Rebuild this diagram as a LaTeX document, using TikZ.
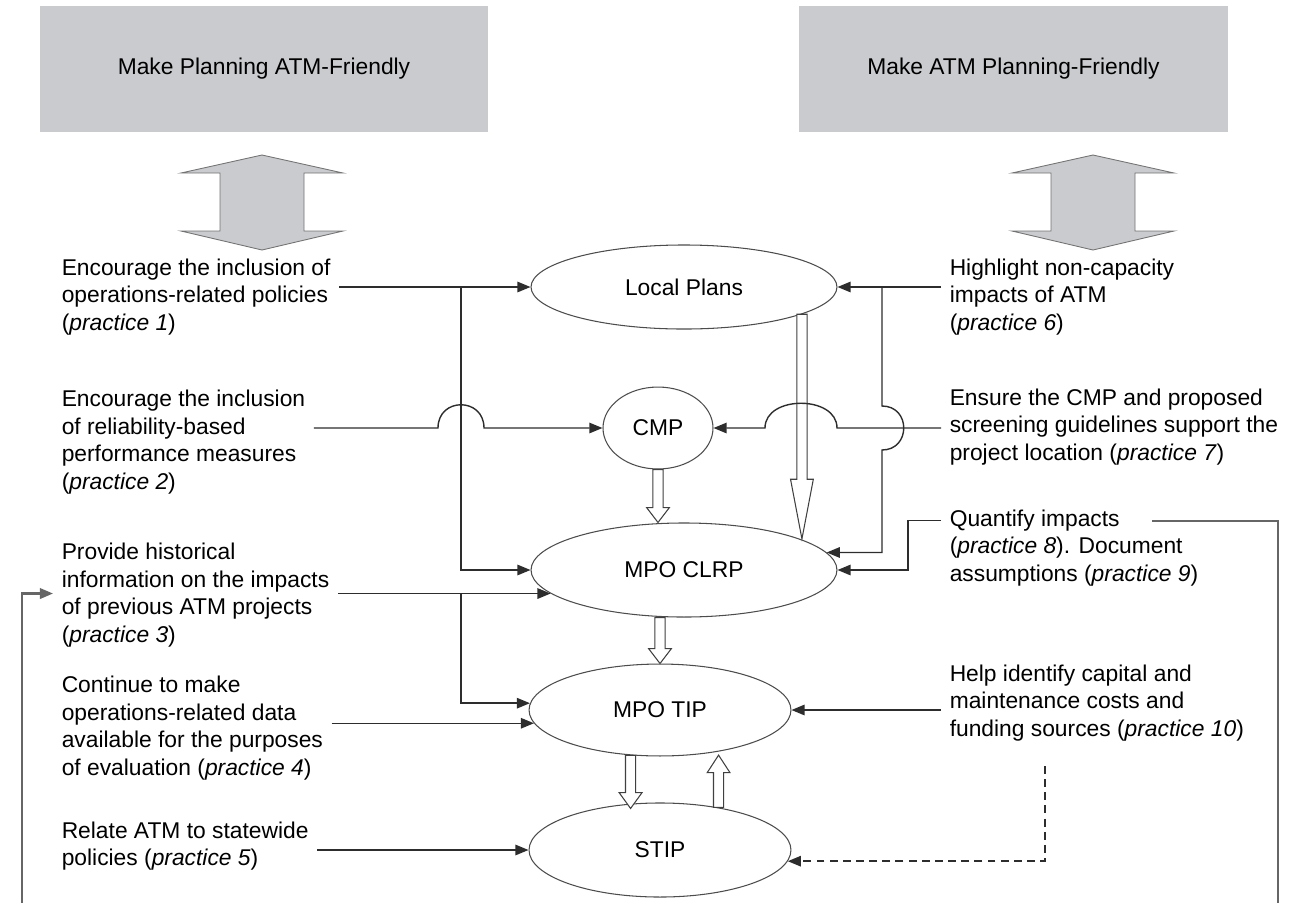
\documentclass[tikz,border=0pt]{standalone}
\usepackage{fontspec}
\setmainfont{Liberation Sans}
\usetikzlibrary{shapes.geometric,arrows.meta,calc}
\definecolor{boxgray}{RGB}{201,203,206}
\definecolor{linegray}{RGB}{45,45,45}
\tikzset{
  hollow/.style={draw=black!75, line width=0.6pt, fill=white, to path={
      let \p1=(\tikztostart), \p2=(\tikztotarget), \n1={ifthenelse(\y2>\y1,1,-1)} in
      ({\x1-2.9pt},\y1) -- ({\x1-2.9pt},{\y2-\n1*#1}) -- ({\x1-6.5pt},{\y2-\n1*#1})
      -- (\x1,\y2) -- ({\x1+6.5pt},{\y2-\n1*#1}) -- ({\x1+2.9pt},{\y2-\n1*#1})
      -- ({\x1+2.9pt},\y1) -- cycle}},
  hollow/.default=8.5pt
}
\begin{document}
\begin{tikzpicture}[x=0.57pt,y=-0.57pt]
    \tikzstyle{txt}=[anchor=west, align=left, inner sep=0pt, outer xsep=5pt, font=\fontsize{13}{15.7}\selectfont]
    \tikzstyle{place}=[ellipse, draw=black!70, line width=0.6pt, inner sep=0pt, font=\fontsize{13}{15.7}\selectfont]
    \tikzstyle{banner}=[fill=boxgray, minimum height=71.8pt, inner sep=0pt, font=\fontsize{13}{15.7}\selectfont]
    \tikzstyle{arr}=[draw=linegray, line width=0.8pt, -{Triangle[length=7.5pt,width=6pt]}]
    \tikzstyle{feedback}=[draw=black!60, line width=1.3pt, -{Triangle[length=7.5pt,width=6pt]}]

    \useasboundingbox (0,0) rectangle (1298,902);
    \clip (0,0) rectangle (1298,902);

    % Banners
    \node at (264, 69) [banner, minimum width=255.4pt] (lbox) {Make Planning ATM-Friendly};
    \node at (1013.5, 69) [banner, minimum width=244.5pt] (rbox) {Make ATM Planning-Friendly};
    \foreach \cx in {262, 1093}
        \filldraw [fill=boxgray, draw=black!55, line width=0.5pt] (\cx,155) -- ({\cx+81},173) -- ({\cx+42},173)
            -- ({\cx+42},231) -- ({\cx+81},231) -- (\cx,250) -- ({\cx-81},231) -- ({\cx-42},231)
            -- ({\cx-42},173) -- ({\cx-81},173) -- cycle;

    % Plans
    \node at (684, 287) [place, minimum width=174.4pt, minimum height=47.9pt] (lp) {Local Plans};
    \node at (658, 428) [place, minimum width=62.7pt, minimum height=46.7pt] (cmp) {CMP};
    \node at (684, 570) [place, minimum width=174.4pt, minimum height=53.6pt] (clrp) {MPO CLRP};
    \node at (660, 710) [place, minimum width=149.3pt, minimum height=52.4pt] (tip) {MPO TIP};
    \node at (660, 850) [place, minimum width=149.3pt, minimum height=53.6pt] (stip) {STIP};

    % Practices
    \node at (53, 297) [txt] (p1) {Encourage the inclusion of\\operations-related policies\\(\textit{practice 1})};
    \node at (53, 442) [txt] (p2) {Encourage the inclusion\\of reliability-based\\performance measures\\(\textit{practice 2})};
    \node at (53, 595) [txt] (p3) {Provide historical\\information on the impacts\\of previous ATM projects\\(\textit{practice 3})};
    \node at (53, 728) [txt] (p4) {Continue to make\\operations-related data\\available for the purposes\\of evaluation (\textit{practice 4})};
    \node at (53, 846) [txt] (p5) {Relate ATM to statewide\\policies (\textit{practice 5})};
    \node at (941, 297) [txt] (p6) {Highlight non-capacity\\impacts of ATM\\(\textit{practice 6})};
    \node at (941, 427) [txt] (p7) {Ensure the CMP and proposed\\screening guidelines support the\\project location (\textit{practice 7})};
    \node at (941, 548) [txt] (p8) {Quantify impacts\\(\textit{practice 8}). Document\\assumptions (\textit{practice 9})};
    \node at (941, 703) [txt] (p10) {Help identify capital and\\maintenance costs and\\funding sources (\textit{practice 10})};

    \coordinate (cl) at (461, 0);
    \coordinate (cr) at (882, 0);
    \coordinate (fbl) at (22, 0);
    \coordinate (fb) at (1152, 521);
    \coordinate (dsh) at (1045, 766);

    % Flow between plans
    \draw [hollow=34pt] (lp.-13) to (clrp.15);
    \draw [hollow] (cmp.south) to (cmp.south |- clrp.north);
    \draw [hollow] (tip.north |- clrp.south) to (tip.north);
    \draw [hollow=9pt] (tip.237) to (stip.147);
    \draw [hollow=10pt] (stip.36) to (tip.-55);

    % Left side
    \draw [arr] (p1.east |- lp.west) -- (lp.west);
    \draw [arr] (cl |- lp.west) |- (clrp.west);
    \draw [arr] (p2.east |- cmp.west) -- (438,428) .. controls (438,397) and (484,397) .. (484,428) -- (cmp.west);
    \draw [arr] (p3.east |- clrp.190) -- (clrp.190);
    \draw [arr] (cl |- clrp.190) |- (tip.177);
    \draw [arr] (p4.east |- tip.186) -- (tip.186);
    \draw [arr] (p5.east |- stip.west) -- (stip.west);

    % Right side
    \draw [arr] (p6.west |- lp.east) -- (lp.east);
    \draw [arr] (cr |- lp.east) -- (882,406) .. controls (911,406) and (911,450) .. (882,450) |- (clrp.7);
    \draw [arr] (p7.west |- cmp.east) -- (837,428) .. controls (837,395) and (765,395) .. (765,428) -- (cmp.east);
    \draw [arr] ([yshift=15.7pt]p8.west) -- ++(-33,0) |- (clrp.east);
    \draw [arr] (p10.west |- tip.east) -- (tip.east);
    \draw [arr, dash pattern=on 4.5pt off 3pt] (dsh) |- (stip.-5);
    \draw [feedback] (fb) -| (1278,915) -| (fbl |- clrp.190) -- (p3.west |- clrp.190);
\end{tikzpicture}
\end{document}
